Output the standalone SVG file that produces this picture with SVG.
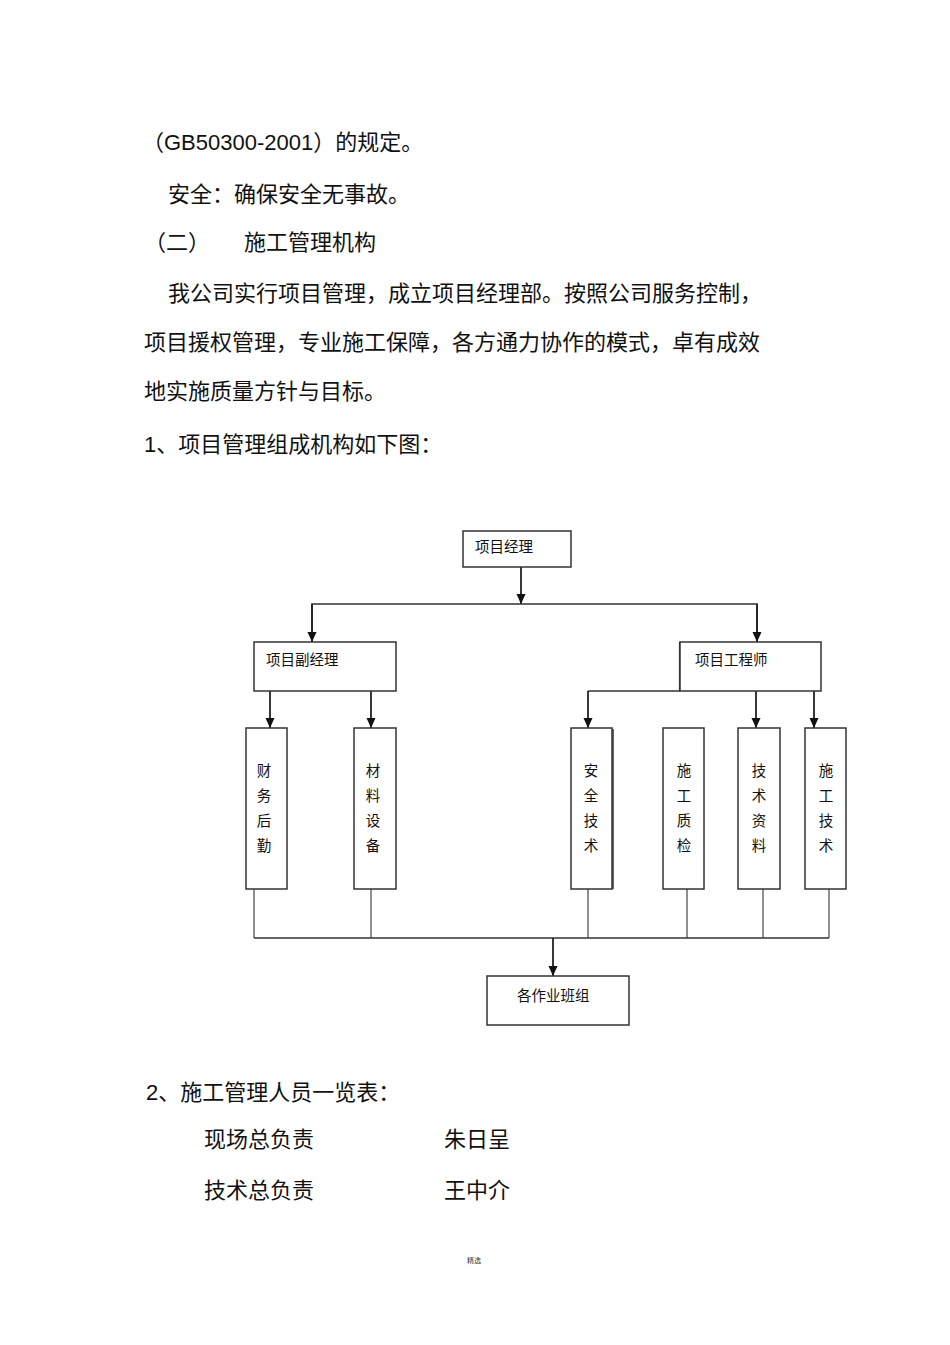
<svg xmlns="http://www.w3.org/2000/svg" width="950" height="1345" viewBox="0 0 950 1345">
<defs>
<style>
.body{font-family:"Liberation Sans","Noto Sans CJK SC",sans-serif;font-size:22px;fill:#111}
.lbl{font-family:"Liberation Sans","Noto Sans CJK SC",sans-serif;font-size:14.5px;fill:#111}
.vl{font-family:"Liberation Sans","Noto Sans CJK SC",sans-serif;font-size:14.5px;fill:#111;text-anchor:middle}
.box{fill:#fff;stroke:#333;stroke-width:1.5}
.ln{fill:none;stroke:#333;stroke-width:1.6}
.thin{fill:none;stroke:#444;stroke-width:1.2}
.arr{fill:none;stroke:#222;stroke-width:1.8;marker-end:url(#ah)}
</style>
<marker id="ah" markerUnits="userSpaceOnUse" markerWidth="10" markerHeight="10" refX="10" refY="4.5" orient="auto">
<path d="M0,0 L10,4.5 L0,9 z" fill="#111"/>
</marker>
</defs>

<g id="text-top">
<text class="body" x="142" y="150">（GB50300-2001）的规定。</text>
<text class="body" x="168" y="202">安全：确保安全无事故。</text>
<text class="body" x="144" y="250">（二）</text>
<text class="body" x="244" y="250">施工管理机构</text>
<text class="body" x="168" y="301">我公司实行项目管理，成立项目经理部。按照公司服务控制，</text>
<text class="body" x="144" y="350">项目援权管理，专业施工保障，各方通力协作的模式，卓有成效</text>
<text class="body" x="144" y="399">地实施质量方针与目标。</text>
<text class="body" x="144" y="452">1、项目管理组成机构如下图：</text>
</g>

<g id="connectors">
<line class="arr" x1="521" y1="567" x2="521" y2="604"/>
<polyline class="ln" points="312,640 312,604 757,604 757,640"/>
<line class="arr" x1="312" y1="604" x2="312" y2="642"/>
<line class="arr" x1="757" y1="604" x2="757" y2="642"/>
<line class="arr" x1="270" y1="691" x2="270" y2="728"/>
<line class="arr" x1="371" y1="691" x2="371" y2="728"/>
<line class="ln" x1="588" y1="691" x2="680" y2="691"/>
<line class="ln" x1="680" y1="642" x2="680" y2="691" style="stroke-width:2.2"/>
<line class="arr" x1="588" y1="691" x2="588" y2="728"/>
<line class="arr" x1="756" y1="691" x2="756" y2="728"/>
<line class="arr" x1="814" y1="691" x2="814" y2="728"/>
<line class="thin" x1="254" y1="889" x2="254" y2="938"/>
<line class="thin" x1="371" y1="889" x2="371" y2="938"/>
<line class="thin" x1="588" y1="889" x2="588" y2="938"/>
<line class="thin" x1="687" y1="889" x2="687" y2="938"/>
<line class="thin" x1="763" y1="889" x2="763" y2="938"/>
<line class="thin" x1="829" y1="889" x2="829" y2="938"/>
<line class="ln" x1="254" y1="938" x2="829" y2="938"/>
<line class="arr" x1="553" y1="938" x2="553" y2="976"/>
</g>

<g id="n-pm">
<rect class="box" x="463" y="531" width="108" height="36"/>
<text class="lbl" x="475" y="552">项目经理</text>
</g>
<g id="n-deputy">
<rect class="box" x="254" y="642" width="142" height="49"/>
<text class="lbl" x="266" y="665">项目副经理</text>
</g>
<g id="n-engineer">
<rect class="box" x="680" y="642" width="141" height="49"/>
<text class="lbl" x="695" y="665">项目工程师</text>
</g>

<g id="n-finance">
<rect class="box" x="246" y="728" width="41" height="161"/>
<text class="vl" x="264" y="776">财</text>
<text class="vl" x="264" y="801">务</text>
<text class="vl" x="264" y="826">后</text>
<text class="vl" x="264" y="851">勤</text>
</g>
<g id="n-material">
<rect class="box" x="354" y="728" width="42" height="161"/>
<text class="vl" x="373" y="776">材</text>
<text class="vl" x="373" y="801">料</text>
<text class="vl" x="373" y="826">设</text>
<text class="vl" x="373" y="851">备</text>
</g>
<g id="n-safety">
<rect class="box" x="571" y="728" width="41" height="161"/>
<line x1="613" y1="729" x2="613" y2="889" stroke="#333" stroke-width="1.5"/>
<text class="vl" x="591" y="776">安</text>
<text class="vl" x="591" y="801">全</text>
<text class="vl" x="591" y="826">技</text>
<text class="vl" x="591" y="851">术</text>
</g>
<g id="n-quality">
<rect class="box" x="663" y="728" width="41" height="161"/>
<text class="vl" x="684" y="776">施</text>
<text class="vl" x="684" y="801">工</text>
<text class="vl" x="684" y="826">质</text>
<text class="vl" x="684" y="851">检</text>
</g>
<g id="n-techdoc">
<rect class="box" x="738" y="728" width="42" height="161"/>
<text class="vl" x="759" y="776">技</text>
<text class="vl" x="759" y="801">术</text>
<text class="vl" x="759" y="826">资</text>
<text class="vl" x="759" y="851">料</text>
</g>
<g id="n-constech">
<rect class="box" x="805" y="728" width="41" height="161"/>
<text class="vl" x="826" y="776">施</text>
<text class="vl" x="826" y="801">工</text>
<text class="vl" x="826" y="826">技</text>
<text class="vl" x="826" y="851">术</text>
</g>

<g id="n-teams">
<rect class="box" x="487" y="976" width="142" height="49"/>
<text class="lbl" x="517" y="1001">各作业班组</text>
</g>

<g id="text-bottom">
<text class="body" x="146" y="1100">2、施工管理人员一览表：</text>
<text class="body" x="204" y="1147">现场总负责</text>
<text class="body" x="444" y="1147">朱日呈</text>
<text class="body" x="204" y="1198">技术总负责</text>
<text class="body" x="444" y="1198">王中介</text>
<text x="467" y="1263" style="font-family:'Liberation Sans','Noto Sans CJK SC',sans-serif;font-size:7px;fill:#333">精选</text>
</g>
</svg>
